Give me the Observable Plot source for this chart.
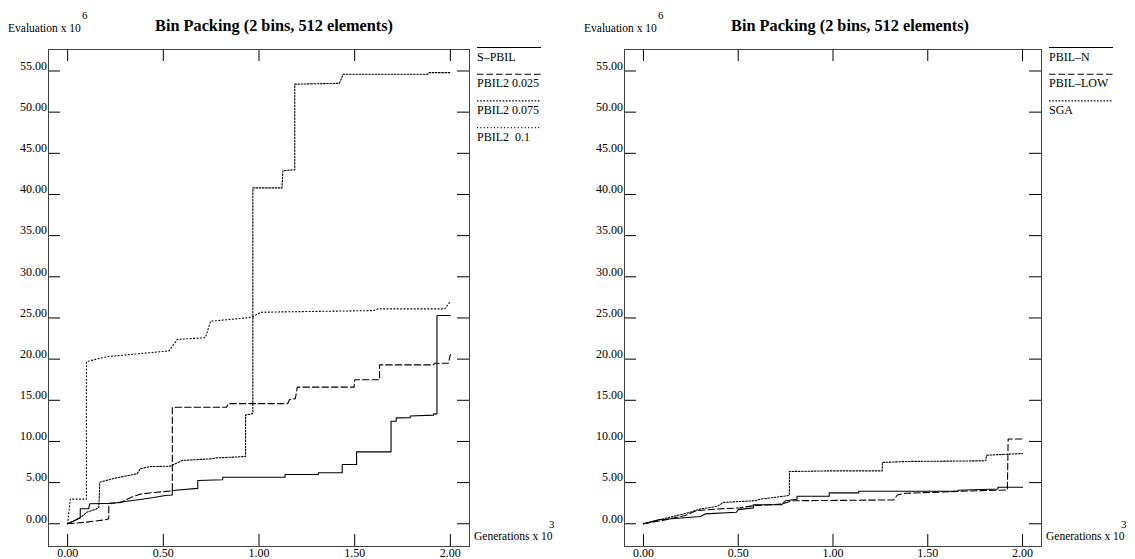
<!DOCTYPE html>
<html><head><meta charset="utf-8">
<script src="https://cdn.jsdelivr.net/npm/d3@7"></script>
<script src="https://cdn.jsdelivr.net/npm/@observablehq/plot@0.6"></script>
<style>
body{margin:0;background:#fff;}
#wrap{position:relative;width:1135px;height:559px;overflow:hidden;}
#wrap svg{position:absolute;top:0;}
</style>
</head><body><div id="wrap"></div>
<script>
// ---- data (x in Generations x 10^3, y in Evaluation x 10^6) ----
const title = "Bin Packing (2 bins, 512 elements)";
const yLabel = "Evaluation x 10";
const yExp = "6";
const xLabel = "Generations x 10";
const xExp = "3";
const xTicks = [0, 0.5, 1, 1.5, 2];
const yTicks = [0, 5, 10, 15, 20, 25, 30, 35, 40, 45, 50, 55];

const leftNames = ["S\u2013PBIL", "PBIL2 0.025", "PBIL2 0.075", "PBIL2  0.1"];
const rightNames = ["PBIL\u2013N", "PBIL\u2013LOW", "SGA"];

const sPBIL = [[0,0],[0.03,0.3],[0.066,0.73],[0.066,1.82],[0.11,1.82],[0.115,2.43],[0.24,2.5],[0.3,2.7],[0.38,2.95],[0.45,3.2],[0.51,3.43],[0.547,3.5],[0.547,4.05],[0.68,4.3],[0.68,5.25],[0.81,5.35],[0.81,5.66],[1.136,5.66],[1.136,5.98],[1.31,6.0],[1.31,6.19],[1.435,6.2],[1.435,7.2],[1.51,7.2],[1.51,8.74],[1.69,8.74],[1.69,12.45],[1.717,12.45],[1.717,12.86],[1.79,12.9],[1.79,13.1],[1.913,13.2],[1.913,13.35],[1.93,13.35],[1.93,25.3],[2.0,25.3]];
const pbil2_025 = [[0,0],[0.1,0.2],[0.2,0.5],[0.215,0.6],[0.215,2.5],[0.28,2.6],[0.33,3.2],[0.38,3.6],[0.45,3.8],[0.547,4.0],[0.547,14.15],[0.83,14.15],[0.84,14.6],[1.15,14.6],[1.16,15.1],[1.19,15.2],[1.2,16.6],[1.497,16.6],[1.5,17.5],[1.63,17.5],[1.63,19.3],[1.91,19.3],[1.92,19.5],[1.99,19.5],[2.0,20.55]];
const pbil2_075 = [[0,0],[0.07,0.8],[0.1,1.4],[0.15,1.8],[0.163,2.0],[0.168,5.05],[0.24,5.5],[0.363,6.07],[0.38,6.7],[0.433,6.95],[0.537,7.0],[0.6,7.7],[0.756,7.9],[0.773,8.0],[0.93,8.17],[0.93,13.2],[0.968,13.4],[0.968,40.8],[1.12,40.8],[1.125,42.9],[1.187,43.0],[1.187,53.4],[1.42,53.5],[1.44,54.6],[1.88,54.6],[1.89,54.8],[2.0,54.8]];
const pbil2_1 = [[0,0],[0.014,3.0],[0.098,3.0],[0.098,19.7],[0.206,20.3],[0.53,21.0],[0.573,22.4],[0.72,22.6],[0.747,24.6],[0.93,25.0],[0.968,25.15],[1.008,25.7],[1.6,25.9],[1.62,26.1],[1.97,26.1],[2.0,27.0]];

const pbilN = [[0,0],[0.08,0.48],[0.2,0.7],[0.3,0.88],[0.326,1.2],[0.49,1.4],[0.5,1.72],[0.58,1.93],[0.58,2.3],[0.73,2.33],[0.75,2.8],[0.81,2.97],[0.81,3.34],[0.98,3.34],[0.98,3.75],[1.136,3.75],[1.136,3.95],[1.656,3.95],[1.66,4.07],[1.87,4.23],[1.87,4.43],[2.0,4.43]];
const pbilLOW = [[0,0],[0.1,0.4],[0.194,0.88],[0.22,1.0],[0.28,1.6],[0.39,1.8],[0.51,1.93],[0.58,2.2],[0.73,2.4],[0.785,2.8],[1.09,2.85],[1.32,2.9],[1.34,3.5],[1.38,3.7],[1.78,4.03],[1.92,4.1],[1.924,10.3],[2.0,10.3]];
const sga = [[0,0],[0.176,1.0],[0.247,1.4],[0.3,1.8],[0.388,2.1],[0.423,2.6],[0.59,2.8],[0.617,3.0],[0.687,3.2],[0.758,3.4],[0.77,3.5],[0.77,6.35],[0.987,6.43],[1.26,6.43],[1.26,7.45],[1.39,7.57],[1.806,7.65],[1.81,8.33],[1.92,8.45],[2.0,8.53]];

// ---- styles ----
const DASH = "6.5,3", DOT_DENSE = "1.6,1.6", DOT_SPARSE = "1,2.4";
const FONT = "Liberation Serif, Times New Roman, serif";

function panel({left, width, mL, mR, series, names}) {
  const H = 559, mT = 49, mB = 13;
  const FH = H - mT - mB, FW = width - mL - mR;
  const marks = [
    Plot.tickX(xTicks, {x: d => d, insetTop: FH - 12, stroke: "#000"}),
    Plot.tickX(xTicks, {x: d => d, insetBottom: FH - 12, stroke: "#000"}),
    Plot.tickY(yTicks, {y: d => d, insetRight: FW - 12, stroke: "#000"}),
    Plot.tickY(yTicks, {y: d => d, insetLeft: FW - 12, stroke: "#000"}),
    Plot.axisX({ticks: xTicks, tickSize: 0, tickPadding: 2, tickFormat: d3.format(".2f"), fontSize: 12}),
    Plot.axisY({ticks: yTicks, tickSize: 0, tickPadding: 1.5, tickFormat: d3.format(".2f"), dy: -5, fontSize: 12}),
    Plot.frame({stroke: "#444"})
  ];
  series.forEach(s => marks.push(Plot.line(s.data, {x: d => d[0], y: d => d[1], stroke: "#000", strokeWidth: 1.1, strokeDasharray: s.dash})));
  const svg = Plot.plot({
    width, height: H, marginLeft: mL, marginRight: mR, marginTop: mT, marginBottom: mB,
    x: {domain: [-0.1, 2.1], label: null},
    y: {domain: [-2.76, 57.61], label: null},
    style: {fontFamily: FONT, fontSize: "12px", background: "white", color: "#000", overflow: "visible"},
    marks
  });
  svg.style.left = left + "px";
  const g = d3.select(svg).append("g").attr("font-family", FONT).attr("fill", "#000").attr("text-anchor", "start");
  // title
  g.append("text").attr("x", mL + 226).attr("y", 31).attr("text-anchor", "middle")
    .attr("font-weight", "bold").attr("font-size", 16.3).text(title);
  // y axis label
  g.append("text").attr("x", mL - 40).attr("y", 32).attr("font-size", 11.5).text(yLabel);
  g.append("text").attr("x", mL + 34).attr("y", 19).attr("font-size", 11).text(yExp);
  // x axis label
  const xr = width - mR;
  g.append("text").attr("x", xr + 5).attr("y", 540).attr("font-size", 11.5).text(xLabel);
  g.append("text").attr("x", xr + 80).attr("y", 528).attr("font-size", 11).text(xExp);
  // legend
  names.forEach((n, i) => {
    const y0 = 47.5 + i * 26.7;
    g.append("line").attr("x1", xr + 8).attr("x2", xr + 72).attr("y1", y0).attr("y2", y0)
      .attr("stroke", "#000").attr("stroke-width", 1.1).attr("stroke-dasharray", series[i].dash || null);
    g.append("text").attr("x", xr + 8).attr("y", y0 + 13).attr("font-size", 12).text(n);
  });
  document.getElementById("wrap").appendChild(svg);
}

panel({left: 0, width: 567, mL: 48, mR: 98, names: leftNames, series: [
  {data: sPBIL, dash: null},
  {data: pbil2_025, dash: DASH},
  {data: pbil2_075, dash: DOT_DENSE},
  {data: pbil2_1, dash: DOT_SPARSE}
]});
panel({left: 576, width: 559, mL: 48, mR: 94, names: rightNames, series: [
  {data: pbilN, dash: null},
  {data: pbilLOW, dash: DASH},
  {data: sga, dash: DOT_DENSE}
]});
</script>
</body></html>
